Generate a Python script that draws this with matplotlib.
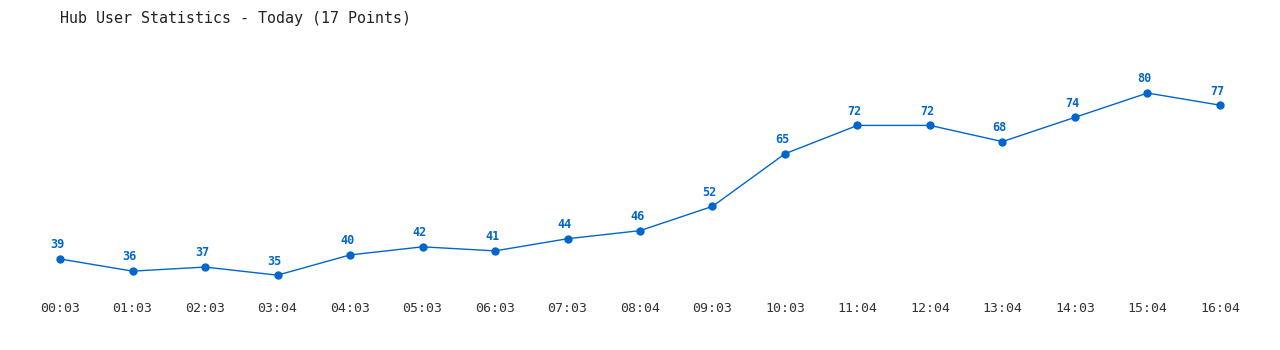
import matplotlib
matplotlib.use("Agg")
import matplotlib.pyplot as plt

times = ["00:03", "01:03", "02:03", "03:04", "04:03", "05:03", "06:03", "07:03",
         "08:04", "09:03", "10:03", "11:04", "12:04", "13:04", "14:03", "15:04", "16:04"]
users = [39, 36, 37, 35, 40, 42, 41, 44, 46, 52, 65, 72, 72, 68, 74, 80, 77]
title = "Hub User Statistics - Today (17 Points)"

color = "#0066cc"
mono = "DejaVu Sans Mono"

fig = plt.figure(figsize=(12.8, 3.5), dpi=100)
ax = fig.add_axes([20 / 1280, 55 / 350, 1240 / 1280, 255 / 350])
x = list(range(len(users)))
ax.plot(x, users, color=color, lw=1.0, marker="o", ms=5, zorder=3)
for xi, v in zip(x, users):
    ax.annotate(str(v), (xi, v), xytext=(-2, 5.5), textcoords="offset points",
                ha="center", va="bottom", color=color, fontsize=8.5,
                fontweight="bold", family=mono)

ax.set_xlim(-0.552, 16.552)
ax.set_ylim(30.1, 93.1)
ax.set_xticks(x)
ax.set_xticklabels(times, family=mono, fontsize=9.5, color="#333333")
ax.tick_params(axis="x", length=0, pad=5)
ax.set_yticks([])
for s in ax.spines.values():
    s.set_visible(False)

fig.text(60 / 1280, 1 - 18 / 350, title, family=mono, fontsize=10.8,
         color="#222222", va="center", ha="left")

fig.savefig("out.png", dpi=100, facecolor="white")
